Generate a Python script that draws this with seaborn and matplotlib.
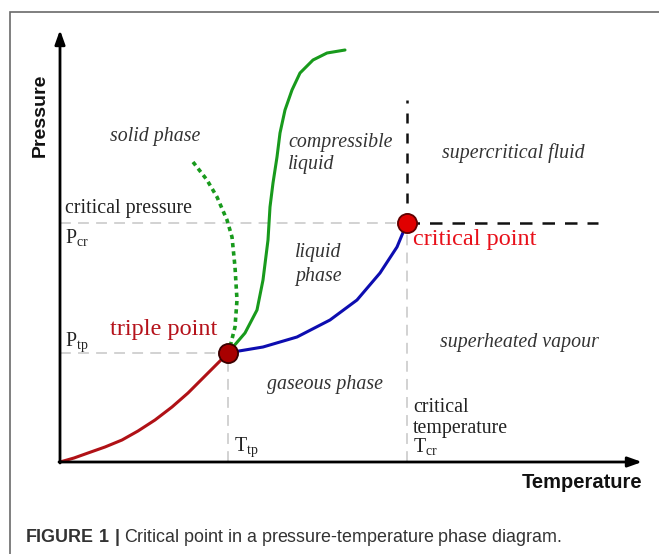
import matplotlib
matplotlib.use("Agg")
import matplotlib.pyplot as plt
import matplotlib.patches as mpatches
import numpy as np
import pandas as pd
import seaborn as sns

# ---- data (temperature / pressure in arbitrary diagram units) ----
sub_T = [0, 14, 28, 45, 62, 78, 95, 112, 128, 148, 160, 168]
sub_P = [0, 4, 9, 15, 22, 31, 42, 55, 69, 89, 101, 109]

vap_T = [168, 173, 203, 237, 270, 297, 320, 337, 347]
vap_P = [109, 110, 115, 125, 142, 162, 189, 215, 239]

melt_T = [168, 173, 185, 197, 203, 208, 210, 213, 217, 220, 225, 232, 240, 253, 267, 285]
melt_P = [109, 115, 129, 152, 182, 222, 255, 279, 305, 329, 352, 372, 389, 402, 409, 412]

melt_anom_T = [133, 147, 157, 167, 172, 175, 177, 175, 170, 168]
melt_anom_P = [300, 282, 265, 242, 225, 195, 162, 135, 115, 109]

axis_T_max = 582
axis_P_max = 432
super_T_max = 538
super_P_max = 362

region_labels = ["solid phase", "compressible", "liquid", "supercritical fluid",
                 "liquid", "phase", "superheated vapour", "gaseous phase"]

sns.set_theme(style="white")
plt.rcParams["font.family"] = ["Liberation Serif", "DejaVu Serif"]
plt.rcParams["mathtext.fontset"] = "custom"
plt.rcParams["mathtext.bf"] = "Liberation Sans:bold"
plt.rcParams["mathtext.rm"] = "Liberation Sans"

fig = plt.figure(figsize=(6.59, 5.54), dpi=100)
ax = fig.add_axes([0, 0, 1, 1])
ax.set_xlim(-60, 599)
ax.set_ylim(-92, 462)
ax.axis("off")

T_tp, P_tp = sub_T[-1], sub_P[-1]
T_cr, P_cr = vap_T[-1], vap_P[-1]

# outer frame
ax.add_patch(mpatches.Rectangle((-50, -300), 900, 750, fill=False,
                                ec="#6a6a6a", lw=1.2, clip_on=True))

# gray guide lines
gray = "#cfcfcf"
gkw = dict(color=gray, lw=1.3, dashes=(6, 4))
ax.plot([0, T_cr], [P_cr, P_cr], **gkw)
ax.plot([0, T_tp], [P_tp, P_tp], **gkw)
ax.plot([T_tp, T_tp], [0, P_tp], **gkw)
ax.plot([T_cr, T_cr], [0, P_cr], **gkw)

# black dashed supercritical boundaries
ax.plot([T_cr, T_cr], [P_cr, super_P_max], color="#111111", lw=1.8, dashes=(4, 4))
ax.plot([T_cr, super_T_max], [P_cr, P_cr], color="#111111", lw=1.8, dashes=(5, 4))

# axes arrows
akw = dict(arrowstyle="-|>,head_length=0.7,head_width=0.25", lw=2, color="black",
           shrinkA=0, shrinkB=0)
ax.annotate("", xy=(0, axis_P_max), xytext=(0, -1), arrowprops=akw)
ax.annotate("", xy=(axis_T_max, 0), xytext=(-1, 0), arrowprops=akw)

# phase boundary curves
lkw = dict(sort=False, estimator=None, lw=2.2, ax=ax, solid_joinstyle="round")
sns.lineplot(x=sub_T, y=sub_P, color="#b01116", **lkw)
sns.lineplot(x=vap_T, y=vap_P, color="#0d0db0", **lkw)
sns.lineplot(x=melt_T, y=melt_P, color="#189a1c", **lkw)
l = ax.plot(melt_anom_T, melt_anom_P, color="#189a1c", lw=2.6)[0]
l.set_dashes((1.2, 1.1))

# special points
sns.scatterplot(x=[T_tp], y=[P_tp], s=190, color="#a80000", edgecolor="#3a0000",
                linewidth=1.3, zorder=5, ax=ax)
sns.scatterplot(x=[T_cr], y=[P_cr], s=190, color="#e00000", edgecolor="#600000",
                linewidth=1.3, zorder=5, ax=ax)

# region labels
ikw = dict(style="italic", fontsize=14.3, color="#333333", va="center")
ax.text(95, 325, region_labels[0], ha="center", **ikw)
ax.text(228, 320, region_labels[1], ha="left", **ikw)
ax.text(228, 297, region_labels[2], ha="left", **ikw)
ax.text(453, 309, region_labels[3], ha="center", **ikw)
ax.text(258, 210, region_labels[4], ha="center", **ikw)
ax.text(258, 185, region_labels[5], ha="center", **ikw)
ax.text(459, 120, region_labels[6], ha="center", **ikw)
ax.text(265, 77, region_labels[7], ha="center", **ikw)

nkw = dict(fontsize=14.3, color="#222222", va="center", ha="left")
ax.text(5, 253, "critical pressure", **nkw)
ax.text(5, 224, r"P$_{\mathregular{cr}}$", **nkw)
ax.text(5, 120, r"P$_{\mathregular{tp}}$", **nkw)
ax.text(353, 54, "critical", **nkw)
ax.text(353, 34, "temperature", **nkw)
ax.text(353, 15, r"T$_{\mathregular{cr}}$", **nkw)
ax.text(174, 15, r"T$_{\mathregular{tp}}$", **nkw)

ax.text(353, 222, "critical point", fontsize=17.5, color="#e8101a", va="center", ha="left")
ax.text(50, 132, "triple point", fontsize=17.5, color="#b5121b", va="center", ha="left")

# axis titles
ax.text(-20, 347, "Pressure", rotation=90, fontsize=14, fontweight="bold",
        family="Liberation Sans", ha="center", va="center", color="#111111")
ax.text(582, -21, "Temperature", fontsize=14.5, fontweight="bold",
        family="Liberation Sans", ha="right", va="center", color="#111111")

# caption
ax.text(-35, -75, r"$\mathbf{FIGURE\ 1\ |}$ Critical point in a pressure-temperature phase diagram.",
        fontsize=12.9, family="Liberation Sans", ha="left", va="center", color="#333333")

fig.savefig("out.png", dpi=100)
